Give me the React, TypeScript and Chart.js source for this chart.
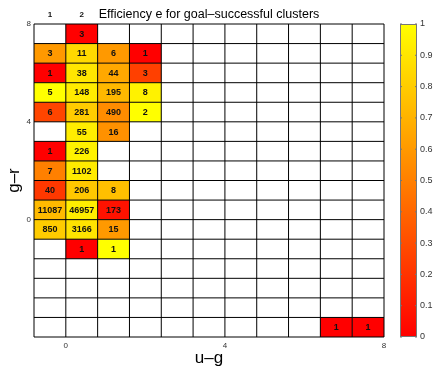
import React, { useEffect, useRef } from "react";
import { Chart, registerables } from "chart.js";

Chart.register(...registerables);

const FONT = "'Liberation Sans', Arial, Helvetica, sans-serif";

const chartTitle = "Efficiency e for goal\u2013successful clusters";
const xAxisLabel = "u\u2013g";
const yAxisLabel = "g\u2013r";

const binSize = 0.8;
const xRange = [-0.8, 8];
const yRange = [-4.8, 8];
const xTickValues = [0, 4, 8];
const yTickValues = [0, 4, 8];
const colorbarTicks = [0, 0.1, 0.2, 0.3, 0.4, 0.5, 0.6, 0.7, 0.8, 0.9, 1];
const columnLabels = ["1", "2"];
const columnLabelUG = [-0.8, 0];

// lower-left corner of each bin (u-g, g-r), cluster count, efficiency
const cellUG = [
  0,
  -0.8, 0, 0.8, 1.6,
  -0.8, 0, 0.8, 1.6,
  -0.8, 0, 0.8, 1.6,
  -0.8, 0, 0.8, 1.6,
  0, 0.8,
  -0.8, 0,
  -0.8, 0,
  -0.8, 0, 0.8,
  -0.8, 0, 0.8,
  -0.8, 0, 0.8,
  0, 0.8,
  6.4, 7.2,
];
const cellGR = [
  7.2,
  6.4, 6.4, 6.4, 6.4,
  5.6, 5.6, 5.6, 5.6,
  4.8, 4.8, 4.8, 4.8,
  4.0, 4.0, 4.0, 4.0,
  3.2, 3.2,
  2.4, 2.4,
  1.6, 1.6,
  0.8, 0.8, 0.8,
  0, 0, 0,
  -0.8, -0.8, -0.8,
  -1.6, -1.6,
  -4.8, -4.8,
];
const cellCount = [
  3,
  3, 11, 6, 1,
  1, 38, 44, 3,
  5, 148, 195, 8,
  6, 281, 490, 2,
  55, 16,
  1, 226,
  7, 1102,
  40, 206, 8,
  11087, 46957, 173,
  850, 3166, 15,
  1, 1,
  1, 1,
];
const cellEfficiency = [
  0.0,
  0.6, 0.85, 0.6, 0.0,
  0.0, 0.9, 0.66, 0.25,
  1.0, 0.92, 0.72, 0.95,
  0.27, 0.8, 0.55, 1.0,
  0.93, 0.57,
  0.0, 0.95,
  0.5, 0.92,
  0.22, 0.78, 0.75,
  0.73, 0.93, 0.07,
  0.8, 0.89, 0.6,
  0.0, 1.0,
  0.0, 0.0,
];

function autumn(v: number): string {
  const t = Math.max(0, Math.min(1, v));
  return `rgb(255, ${Math.round(255 * t)}, 0)`;
}

const heatmapPlugin = {
  id: "heatmapCells",
  beforeDatasetsDraw(chart: any) {
    const { ctx, chartArea: a, scales } = chart;
    const xs = scales.x;
    const ys = scales.y;
    ctx.save();
    ctx.fillStyle = "#ffffff";
    ctx.fillRect(a.left, a.top, a.right - a.left, a.bottom - a.top);

    // cells
    for (let i = 0; i < cellCount.length; i++) {
      const x0 = xs.getPixelForValue(cellUG[i]);
      const x1 = xs.getPixelForValue(cellUG[i] + binSize);
      const y0 = ys.getPixelForValue(cellGR[i] + binSize);
      const y1 = ys.getPixelForValue(cellGR[i]);
      ctx.fillStyle = autumn(cellEfficiency[i]);
      ctx.fillRect(x0, y0, x1 - x0, y1 - y0);
    }

    // grid
    ctx.strokeStyle = "#000000";
    ctx.lineWidth = 1;
    const nx = Math.round((xRange[1] - xRange[0]) / binSize);
    const ny = Math.round((yRange[1] - yRange[0]) / binSize);
    ctx.beginPath();
    for (let k = 0; k <= nx; k++) {
      const px = xs.getPixelForValue(xRange[0] + k * binSize);
      ctx.moveTo(px, a.top);
      ctx.lineTo(px, a.bottom);
    }
    for (let k = 0; k <= ny; k++) {
      const py = ys.getPixelForValue(yRange[0] + k * binSize);
      ctx.moveTo(a.left, py);
      ctx.lineTo(a.right, py);
    }
    ctx.stroke();

    // cell counts
    ctx.fillStyle = "#111111";
    ctx.font = `bold 9px ${FONT}`;
    ctx.textAlign = "center";
    ctx.textBaseline = "middle";
    for (let i = 0; i < cellCount.length; i++) {
      const cx = xs.getPixelForValue(cellUG[i] + binSize / 2);
      const cy = ys.getPixelForValue(cellGR[i] + binSize / 2);
      ctx.fillText(String(cellCount[i]), cx, cy + 0.5);
    }

    // column labels above plot
    ctx.font = `bold 8px ${FONT}`;
    ctx.textBaseline = "alphabetic";
    for (let i = 0; i < columnLabels.length; i++) {
      const cx = xs.getPixelForValue(columnLabelUG[i] + binSize / 2);
      ctx.fillText(columnLabels[i], cx, 17);
    }

    // title
    ctx.fillStyle = "#000000";
    ctx.font = `12.5px ${FONT}`;
    ctx.fillText(chartTitle, (a.left + a.right) / 2, 17.5);

    // axis titles
    ctx.font = `17px ${FONT}`;
    ctx.fillText(xAxisLabel, (a.left + a.right) / 2, 363);
    ctx.save();
    ctx.translate(18.5, (a.top + a.bottom) / 2);
    ctx.rotate(-Math.PI / 2);
    ctx.fillText(yAxisLabel, 0, 0);
    ctx.restore();

    // colorbar
    const cbL = 400;
    const cbR = 417;
    const grad = ctx.createLinearGradient(0, a.bottom, 0, a.top);
    grad.addColorStop(0, autumn(0));
    grad.addColorStop(1, autumn(1));
    ctx.fillStyle = grad;
    ctx.fillRect(cbL, a.top, cbR - cbL, a.bottom - a.top);
    ctx.strokeStyle = "#777777";
    ctx.lineWidth = 1;
    ctx.strokeRect(cbL + 0.5, a.top + 0.5, cbR - cbL - 1, a.bottom - a.top - 1);
    ctx.fillStyle = "#333333";
    ctx.font = `9px ${FONT}`;
    ctx.textAlign = "left";
    ctx.textBaseline = "middle";
    for (const t of colorbarTicks) {
      const py = a.bottom - t * (a.bottom - a.top);
      ctx.beginPath();
      ctx.moveTo(cbL, py);
      ctx.lineTo(cbL + 2, py);
      ctx.moveTo(cbR - 2, py);
      ctx.lineTo(cbR, py);
      ctx.stroke();
      ctx.fillText(String(t), cbR + 3, py);
    }
    ctx.restore();
  },
};

export default function App() {
  const canvasRef = useRef<HTMLCanvasElement | null>(null);

  useEffect(() => {
    document.body.style.margin = "0";
    const canvas = canvasRef.current;
    if (!canvas) return;
    const centers = cellCount.map((_, i) => ({
      x: cellUG[i] + binSize / 2,
      y: cellGR[i] + binSize / 2,
    }));
    const chart = new Chart(canvas, {
      type: "scatter",
      data: {
        datasets: [
          {
            data: centers,
            pointRadius: 0,
            pointHoverRadius: 0,
          },
        ],
      },
      options: {
        responsive: false,
        animation: false,
        events: [],
        layout: { padding: { left: 0, top: 24, right: 52, bottom: 0 } },
        plugins: {
          legend: { display: false },
          title: { display: false },
          tooltip: { enabled: false },
        },
        scales: {
          x: {
            type: "linear",
            min: xRange[0],
            max: xRange[1],
            afterBuildTicks: (s: any) => {
              s.ticks = xTickValues.map((v) => ({ value: v }));
            },
            afterFit: (s: any) => {
              s.height = 34;
            },
            grid: { display: false, drawTicks: false },
            border: { display: false },
            ticks: {
              autoSkip: false,
              maxRotation: 0,
              padding: 4,
              color: "#333333",
              font: { family: FONT, size: 8 },
              callback: (v: any) => String(v),
            },
          },
          y: {
            type: "linear",
            min: yRange[0],
            max: yRange[1],
            afterBuildTicks: (s: any) => {
              s.ticks = yTickValues.map((v) => ({ value: v }));
            },
            afterFit: (s: any) => {
              s.width = 34;
            },
            grid: { display: false, drawTicks: false },
            border: { display: false },
            ticks: {
              autoSkip: false,
              padding: 3,
              color: "#333333",
              font: { family: FONT, size: 8 },
              callback: (v: any) => String(v),
            },
          },
        },
      },
      plugins: [heatmapPlugin],
    });
    return () => chart.destroy();
  }, []);

  return (
    <div style={{ position: "absolute", left: 0, top: 0, width: 436, height: 371, background: "#fff" }}>
      <canvas ref={canvasRef} width={436} height={371} style={{ display: "block" }} />
    </div>
  );
}
